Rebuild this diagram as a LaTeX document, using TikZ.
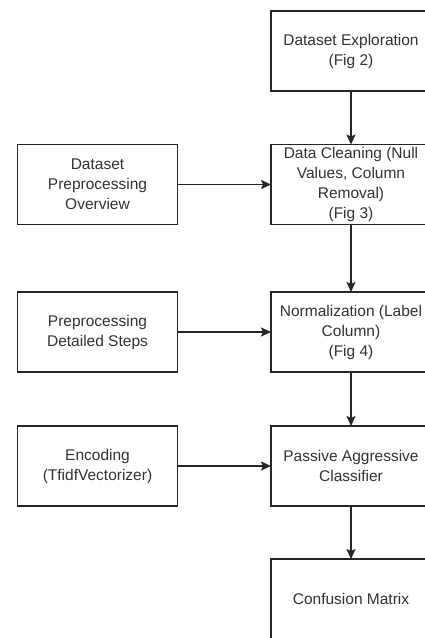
\documentclass[tikz,border=0pt]{standalone}
\usepackage{fontspec}
\setmainfont{Liberation Sans}
\usetikzlibrary{arrows.meta}
\definecolor{txt}{RGB}{51,51,51}
\begin{document}
\begin{tikzpicture}[x=1pt,y=-1pt,
  box/.style={draw=black!85, line width=1.5pt, minimum width=160pt, minimum height=80pt,
    align=center, text=txt, font=\fontsize{15.5}{20}\selectfont, inner sep=0pt, outer sep=0pt},
  arr/.style={-{Stealth[length=10pt,width=9pt,inset=2pt]}, draw=black!85, line width=1.5pt}]
\useasboundingbox[fill=white] (0,0) rectangle (425,638);
\node[box] (explore) at (351,51) {Dataset Exploration\\(Fig 2)};
\node[box] (clean) at (351,184.5) {Data Cleaning (Null\\Values, Column\\Removal)\\(Fig 3)};
\node[box] (norm) at (351,332) {Normalization (Label\\Column)\\(Fig 4)};
\node[box] (pac) at (351,466) {Passive Aggressive\\Classifier};
\node[box] (cm) at (351,599) {Confusion Matrix};
\node[box] (overview) at (97.5,184.5) {Dataset\\Preprocessing\\Overview};
\node[box] (steps) at (97.5,332) {Preprocessing\\Detailed Steps};
\node[box] (enc) at (97.5,466) {Encoding\\(TfidfVectorizer)};
\draw[arr] (explore) -- (clean);
\draw[arr] (clean) -- (norm);
\draw[arr] (norm) -- (pac);
\draw[arr] (pac) -- (cm);
\draw[arr] (overview) -- (clean);
\draw[arr] (steps) -- (norm);
\draw[arr] (enc) -- (pac);
\end{tikzpicture}
\end{document}
